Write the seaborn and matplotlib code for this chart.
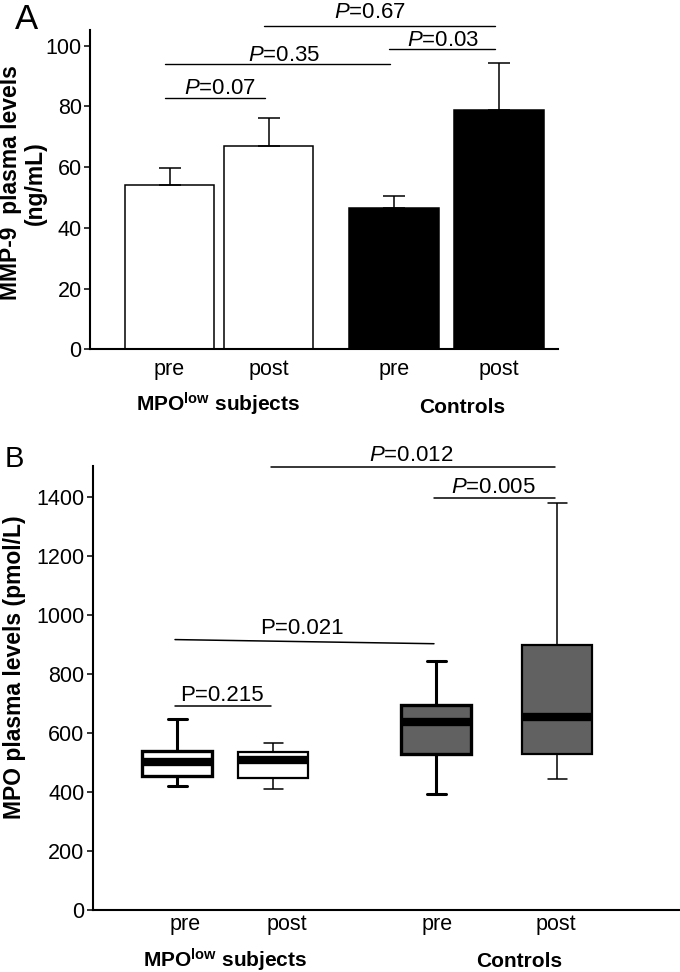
import numpy as np
import pandas as pd
import matplotlib
matplotlib.use("Agg")
import matplotlib.pyplot as plt
import seaborn as sns

# ---------------- data: panel A (MMP-9, mean + SEM, ng/mL) ----------------
groups = ["MPOlow", "MPOlow", "Controls", "Controls"]
time_labels = ["pre", "post", "pre", "post"]
mmp9_mean = [54.1, 67.1, 46.6, 78.9]
mmp9_sem = [5.6, 9.0, 4.0, 15.5]
mmp9_ticks = [0, 20, 40, 60, 80, 100]
mmp9_pvals = ["0.07", "0.35", "0.03", "0.67"]
mmp9_pairs = [(0, 1), (0, 2), (2, 3), (1, 3)]
mmp9_line_y = [82.7, 93.9, 98.8, 106.5]
mmp9_text_y = [84.2, 95.0, 99.9, 109.2]

# ------------- data: panel B (MPO, pmol/L: min, Q1, median, Q3, max) -------------
mpo_low_pre = [419, 455, 501, 540, 648]
mpo_low_post = [410, 447, 508, 535, 567]
mpo_ctrl_pre = [393, 530, 638, 695, 845]
mpo_ctrl_post = [443, 530, 653, 899, 1378]
mpo_ticks = [0, 200, 400, 600, 800, 1000, 1200, 1400]
mpo_pvals = ["0.215", "0.021", "0.005", "0.012"]
mpo_italic = [False, False, True, True]
mpo_pairs = [(0, 1), (0, 2), (2, 3), (1, 3)]
mpo_line_y = [(692, 692), (916, 902), (1395, 1395), (1502, 1502)]
mpo_text_y = [709, 935, 1412, 1522]

# ---------------- layout (not data) ----------------
pos_a = [0.795, 1.785, 3.04, 4.09]
text_x_a = [1.30, 1.94, 3.53, 2.80]
pos_b = [0.843, 1.803, 3.433, 4.643]
label_pos_b = [0.92, 1.94, 3.44, 4.63]
text_x_b = [1.29, 2.09, 4.01, 3.18]

sns.set_theme(style="ticks", rc={
    "axes.edgecolor": "black", "xtick.color": "black", "ytick.color": "black",
    "text.color": "black", "axes.labelcolor": "black",
})
plt.rcParams["font.family"] = ["Liberation Sans", "DejaVu Sans"]
plt.rcParams["mathtext.fontset"] = "custom"
plt.rcParams["mathtext.rm"] = "Liberation Sans"
plt.rcParams["mathtext.it"] = "Liberation Sans:italic"
plt.rcParams["mathtext.bf"] = "Liberation Sans:bold"

W, H = 680, 972
fig = plt.figure(figsize=(W / 100, H / 100), dpi=100)
axA = fig.add_axes([90 / W, 1 - 349.3 / H, 468 / W, 319.3 / H])
axB = fig.add_axes([92.7 / W, 1 - 910 / H, (W - 92.7) / W, 444 / H])

TICK_FS = 15.5
P_FS = 16
GROUP_FS = 15
YLAB_FS = 16.5

# ---------------- Panel A ----------------
dfA = pd.DataFrame({"pos": pos_a, "mean": mmp9_mean, "group": groups})
sns.barplot(data=dfA, x="pos", y="mean", hue="group",
            palette={"MPOlow": "white", "Controls": "black"},
            native_scale=True, width=0.9, dodge=False, errorbar=None,
            edgecolor="black", linewidth=1.1, saturation=1, legend=False, ax=axA)
axA.errorbar(pos_a, mmp9_mean, yerr=[np.zeros(len(mmp9_sem)), mmp9_sem],
             fmt="none", ecolor="black", elinewidth=1.1, capsize=8, capthick=1.1)
axA.set_xlim(0, 4.68)
axA.set_ylim(0, 105.2)
axA.set_yticks(mmp9_ticks)
axA.set_xticks(pos_a)
axA.set_xticklabels(time_labels)
axA.set_xlabel("")
axA.set_ylabel("")
sns.despine(ax=axA)

for (i, j), ly, ty, tx, p in zip(mmp9_pairs, mmp9_line_y, mmp9_text_y, text_x_a, mmp9_pvals):
    axA.plot([pos_a[i] - 0.05, pos_a[j] - 0.04], [ly, ly], color="black", lw=1.0,
             clip_on=False)
    axA.text(tx, ty, r"$P$=" + p, ha="center", va="baseline", fontsize=P_FS,
             clip_on=False)

# ---------------- Panel B ----------------
dfB = pd.DataFrame({
    "pos": np.repeat(pos_b, 5),
    "mpo": np.concatenate([mpo_low_pre, mpo_low_post, mpo_ctrl_pre, mpo_ctrl_post]),
    "group": np.repeat(groups, 5),
})
sns.boxplot(data=dfB, x="pos", y="mpo", hue="group",
            palette={"MPOlow": "white", "Controls": "#616161"},
            native_scale=True, width=0.73, whis=(0, 100), dodge=False,
            linecolor="black", linewidth=2.0, saturation=1, legend=False, ax=axB,
            medianprops=dict(linewidth=6, color="black"), capwidths=0.19)

pos_arr = np.array(pos_b)
thick_idx = {0, 2}
for ln in axB.lines:
    xd = np.asarray(ln.get_xdata(), dtype=float)
    if len(xd) < 2:
        continue
    k = int(np.argmin(np.abs(pos_arr - xd.mean())))
    span = xd.max() - xd.min()
    if span < 0.5:  # whisker or cap
        ln.set_linewidth(2.2 if k in thick_idx else 1.1)
for pt in axB.patches:
    try:
        vx = pt.get_path().vertices[:, 0]
        k = int(np.argmin(np.abs(pos_arr - vx.mean())))
        pt.set_linewidth(2.4 if k in thick_idx else 1.6)
    except Exception:
        pass

axB.set_xlim(0, (W - 92.7) / 100)
axB.set_ylim(0, 1504)
axB.set_yticks(mpo_ticks)
axB.set_xticks(label_pos_b)
axB.set_xticklabels(time_labels)
axB.set_xlabel("")
axB.set_ylabel("")
sns.despine(ax=axB)

for (i, j), (y1, y2), ty, tx, p, it in zip(mpo_pairs, mpo_line_y, mpo_text_y, text_x_b,
                                           mpo_pvals, mpo_italic):
    axB.plot([pos_b[i] - 0.02, pos_b[j] - 0.02], [y1, y2], color="black", lw=1.1,
             clip_on=False)
    lab = (r"$P$=" + p) if it else ("P=" + p)
    axB.text(tx, ty, lab, ha="center", va="baseline", fontsize=P_FS, clip_on=False)

# ---------------- common styling ----------------
for ax, pad in ((axA, 7), (axB, 3)):
    for s in ("left", "bottom"):
        ax.spines[s].set_linewidth(1.5)
    ax.tick_params(axis="y", length=4, width=1.1, pad=2, labelsize=TICK_FS)
    ax.tick_params(axis="x", length=0, pad=pad, labelsize=TICK_FS)

# group labels
grp_lab = r"$\mathbf{MPO}^{\mathbf{low}}\mathbf{\ subjects}$"
fig.text(218 / W, 1 - 412 / H, grp_lab, ha="center", va="baseline", fontsize=GROUP_FS)
fig.text(462 / W, 1 - 413 / H, "Controls", ha="center", va="baseline",
         fontsize=GROUP_FS, fontweight="bold")
fig.text(225 / W, 1 - 967 / H, grp_lab, ha="center", va="baseline", fontsize=GROUP_FS)
fig.text(519 / W, 1 - 967 / H, "Controls", ha="center", va="baseline",
         fontsize=GROUP_FS, fontweight="bold")

# axis titles
fig.text(23 / W, 1 - 183 / H, "MMP-9  plasma levels\n(ng/mL)", rotation=90,
         ha="center", va="center", multialignment="center", fontsize=YLAB_FS,
         fontweight="bold", linespacing=1.1)
fig.text(15 / W, 1 - 667 / H, "MPO plasma levels (pmol/L)", rotation=90,
         ha="center", va="center", fontsize=YLAB_FS, fontweight="bold")

# panel letters
fig.text(15 / W, 1 - 29 / H, "A", ha="left", va="baseline", fontsize=25)
fig.text(5 / W, 1 - 467 / H, "B", ha="left", va="baseline", fontsize=21)

fig.savefig("out.png", dpi=100)
